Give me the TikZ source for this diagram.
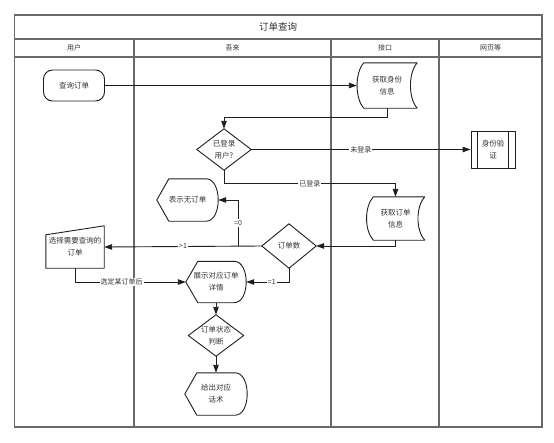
\documentclass[tikz,border=0pt]{standalone}
\usepackage{fontspec}
\setmainfont{Noto Sans CJK SC}
\usepackage{tikz}
\usetikzlibrary{positioning,arrows.meta,shapes.geometric,calc}
\definecolor{flowInk}{RGB}{30,30,30}
\definecolor{flowText}{RGB}{51,51,51}
\definecolor{laneLine}{RGB}{105,105,105}

% outlines drawn round plain text nodes
\newcommand{\dispoutline}[1]{%
  \draw[shapeline] (#1.west) -- ($(#1.north west)+(12,0)$) -- ($(#1.north east)+(-12,0)$)
    .. controls ($(#1.north east)+(4,0)$) and ($(#1.south east)+(4,0)$) .. ($(#1.south east)+(-12,0)$)
    -- ($(#1.south west)+(12,0)$) -- cycle;}
\newcommand{\storeoutline}[1]{%
  \draw[shapeline] ($(#1.north west)+(7,0)$) -- (#1.north east)
    .. controls ($(#1.north east)+(-9,10)$) and ($(#1.south east)+(-9,-10)$) .. (#1.south east)
    -- ($(#1.south west)+(7,0)$)
    .. controls ($(#1.south west)+(-2,-10)$) and ($(#1.north west)+(-2,10)$) .. cycle;}
\newcommand{\decoutline}[1]{%
  \draw[shapeline] (#1.north) -- (#1.east) -- (#1.south) -- (#1.west) -- cycle;}

\begin{document}
\begin{tikzpicture}[x=1pt, y=-1pt,
  shapeline/.style={draw=flowInk, line width=0.9pt, line join=round},
  txt/.style={align=center, text=flowText, inner sep=0pt,
              font=\fontsize{7.5}{12}\selectfont},
  term/.style={txt, shapeline, rounded corners=9pt, minimum width=61pt, minimum height=31pt},
  arr/.style={-{Triangle[length=8pt,width=5.5pt]}, line width=0.9pt, flowInk},
  lbl/.style={fill=white, text=flowText, inner sep=1pt, font=\fontsize{7}{8}\selectfont},
  lane/.style={draw=laneLine, line width=1.1pt},
  head/.style={text=flowText, font=\fontsize{7}{8}\selectfont}]
  \useasboundingbox (0,0) rectangle (554,442);

  % swimlanes
  \draw[lane] (14.5,15) rectangle (542,427);
  \draw[lane] (14.5,39) -- (542,39);
  \draw[lane] (14.5,57) -- (542,57);
  \draw[lane] (134,39) -- (134,427);
  \draw[lane] (331,39) -- (331,427);
  \draw[lane] (439,39) -- (439,427);
  \node[text=flowText, font=\fontsize{9.5}{10}\selectfont] (title) at (278,27) {订单查询};
  \node[head] (hUser) at (74,48) {用户};
  \node[head] (hWulai) at (232.5,48) {吾来};
  \node[head] (hApi) at (385,48) {接口};
  \node[head] (hWeb) at (490.5,48) {网页等};

  % nodes
  \node[term] (query) at (74,85.5) {查询订单};
  \node[txt, minimum width=60pt, minimum height=45pt] (idinfo) at (387,85.5) {获取身份\\信息};
  \node[txt, minimum width=54pt, minimum height=41pt] (login) at (224,149.5) {已登录\\用户?};
  \node[txt, shapeline, minimum width=44pt, minimum height=37pt] (verify) at (493,149.5) {身份验\\证};
  \node[txt, minimum width=58pt, minimum height=43pt] (orderinfo) at (395.5,218.5) {获取订单\\信息};
  \node[txt, minimum width=54pt, minimum height=44pt] (count) at (289,246) {订单数};
  \node[txt, minimum width=61pt, minimum height=42pt] (none) at (187.5,200) {表示无订单};
  \node[txt, minimum width=58pt, minimum height=42pt] (select) at (75,247) {选择需要查询的\\订单};
  \node[txt, minimum width=60pt, minimum height=41pt] (detail) at (216,282) {展示对应订单\\详情};
  \node[txt, minimum width=55pt, minimum height=41pt] (status) at (216,335.5) {订单状态\\判断};
  \node[txt, minimum width=62pt, minimum height=42pt] (reply) at (216,394) {给出对应\\话术};

  \storeoutline{idinfo}
  \storeoutline{orderinfo}
  \decoutline{login}
  \decoutline{count}
  \decoutline{status}
  \dispoutline{none}
  \dispoutline{detail}
  \dispoutline{reply}
  \draw[shapeline] (select.south west) -- ($(select.north west)+(0,9)$) -- (select.north east) -- (select.south east) -- cycle;
  \draw[shapeline] ($(verify.north west)+(7,0)$) -- ($(verify.south west)+(7,0)$);
  \draw[shapeline] ($(verify.north east)+(-7,0)$) -- ($(verify.south east)+(-7,0)$);

  % connectors
  \coordinate (zeroturn) at ($(count.west -| 238,0)$);
  \draw[arr] (query) -- (idinfo);
  \draw[arr] (idinfo.south) -- ++(0,9) -| (login.north);
  \draw[arr] (login.east) -- node[lbl]{未登录} (verify.west);
  \draw[arr] (login.south) -- ++(0,13.5) -| node[lbl, pos=0.25]{已登录} (orderinfo.north);
  \draw[arr] (orderinfo.south) |- (count.east);
  \draw[arr] (count.west) -- node[lbl]{>1} (select.east);
  \draw[arr] (zeroturn) |- node[lbl, pos=0.25]{=0} (none.east);
  \draw[arr] (count.south) |- node[lbl, pos=0.7]{=1} (detail.east);
  \draw[arr] (select.south) |- node[lbl, pos=0.71]{选定某订单后} (detail.west);
  \draw[arr] (detail.south) -- (status.north);
  \draw[arr] (status.south) -- (reply.north);
\end{tikzpicture}
\end{document}
